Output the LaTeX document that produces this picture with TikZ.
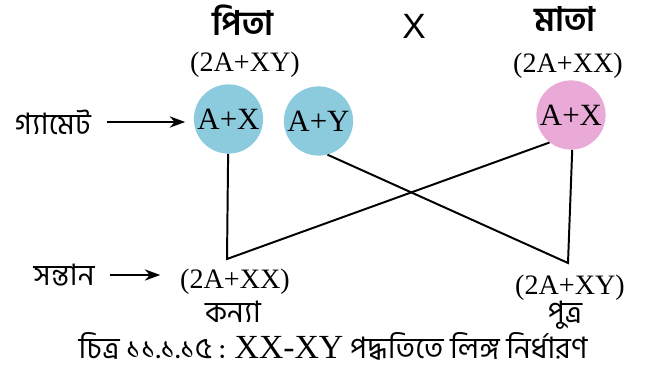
\documentclass[tikz,border=0pt]{standalone}
\usepackage{fontspec}
\setmainfont{Liberation Serif}
\newfontfamily\bn[Script=Bengali]{Hind Siliguri}
\newfontfamily\lsans{Liberation Sans}
\usetikzlibrary{arrows.meta}

\definecolor{gamblue}{RGB}{140,202,222}
\definecolor{gampink}{RGB}{234,170,216}

\begin{document}
\begin{tikzpicture}[x=0.025cm, y=-0.025cm,
    gam/.style={circle, minimum size=1.73cm, inner sep=0pt, font=\fontsize{22}{24}\selectfont},
    geno/.style={inner sep=0pt, font=\fontsize{20}{22}\selectfont},
    bnlbl/.style={inner sep=1pt, font=\bn\fontsize{21}{24}\selectfont},
    bnhead/.style={inner sep=0pt, font=\bn\bfseries\fontsize{24}{26}\selectfont},
    pt/.style={-{Stealth[length=11pt,width=8pt]}, line width=1.4pt}]
    \useasboundingbox (0,0) rectangle (653,372);
    % parents
    \node[bnhead] (pita) at (243,20) {পিতা};
    \node[font=\lsans\fontsize{25}{27}\selectfont] (cross) at (414,26) {X};
    \node[bnhead] (mata) at (565,19) {মাতা};
    \node[geno] (fgeno) at (245,65) {(2A+XY)};
    \node[geno] (mgeno) at (568,66) {(2A+XX)};
    % gametes
    \node[gam, fill=gamblue] (fX) at (228.5,119) {A+X};
    \node[gam, fill=gamblue] (fY) at (318.5,121) {A+Y};
    \node[gam, fill=gampink] (mX) at (571,115) {A+X};
    \node[bnlbl] (gamete) at (53,122) {গ্যামেট};
    \draw[pt, shorten <=10pt, shorten >=6pt] (gamete) -- (gamete -| fX.west);
    % offspring
    \coordinate (dv) at (227,259);
    \coordinate (sv) at (568,263);
    \draw[line width=1.4pt] (fX) -- (dv) -- (mX.232);
    \draw[line width=1.4pt] (fY.285) -- (sv) -- (mX.272);
    \node[geno] (dgeno) at (235,282) {(2A+XX)};
    \node[bnlbl] (kanya) at (233,312) {কন্যা};
    \node[geno] (sgeno) at (570,288) {(2A+XY)};
    \node[bnlbl] (putra) at (565,315) {পুত্র};
    \node[bnlbl] (santan) at (64,275) {সন্তান};
    \draw[pt, shorten <=10pt, shorten >=14pt] (santan) -- (santan -| dgeno.west);
    % caption
    \node[bnlbl, inner sep=0pt] (caption) at (333,346) {চিত্র ১১.১.১৫ : {\fontsize{24}{26}\selectfont\rmfamily XX-XY} পদ্ধতিতে লিঙ্গ নির্ধারণ};
\end{tikzpicture}
\end{document}
